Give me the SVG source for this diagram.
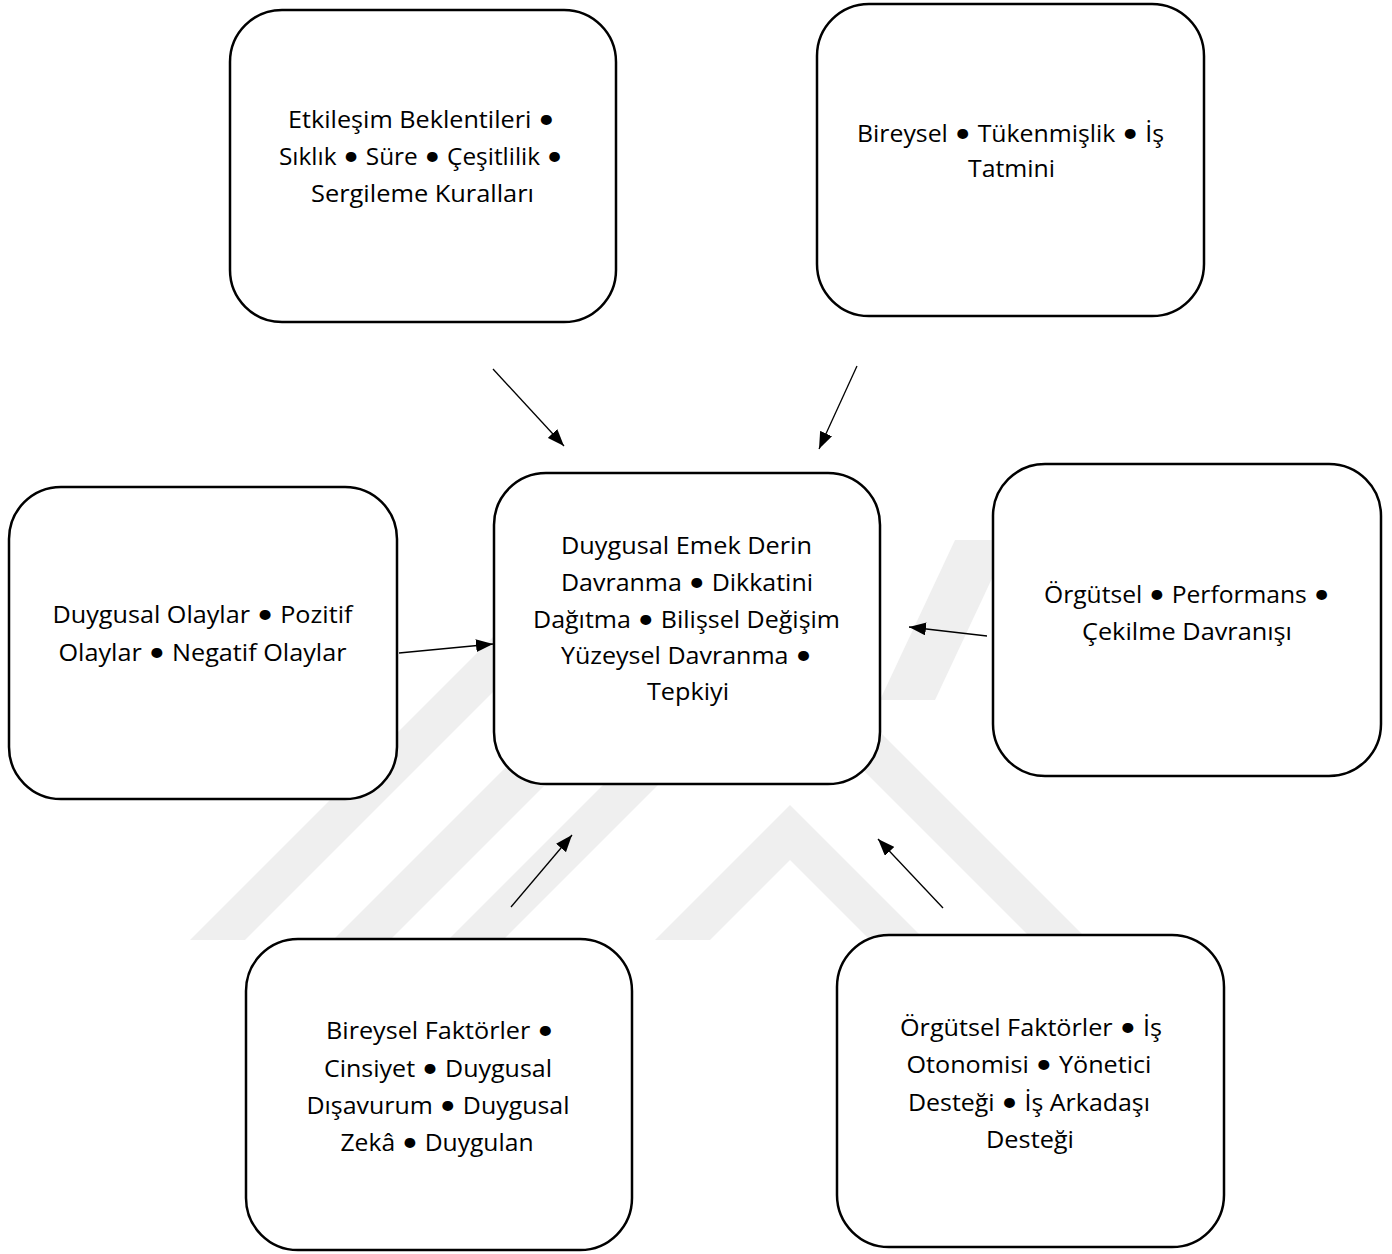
<svg xmlns="http://www.w3.org/2000/svg" width="1392" height="1254" viewBox="0 0 1392 1254">
  <style>
    .box { fill: #ffffff; stroke: #000000; stroke-width: 2.5; }
    .lbl { font-family: "Open Sans", Lato, "Liberation Sans", sans-serif; font-size: 23px; fill: #000000; text-anchor: middle; }
    .b { font-family: Lato, "Open Sans", sans-serif; font-size: 27px; }
    .wire { stroke: #000000; stroke-width: 1.3; fill: none; marker-end: url(#head); }
    .wm { fill: #efefef; stroke: none; }
  </style>
  <defs>
    <marker id="head" viewBox="0 0 17 13" refX="17" refY="6.5" markerWidth="17" markerHeight="13" markerUnits="userSpaceOnUse" orient="auto">
      <path d="M0,0 L17,6.5 L0,13 Z" fill="#000000"/>
    </marker>
  </defs>

  <rect width="1392" height="1254" fill="#ffffff"/>

  <!-- faint background emblem -->
  <g id="emblem">
    <polygon class="wm" points="190,940 245,940 665,520 610,520"/>
    <polygon class="wm" points="333,940 390,940 760,570 703,570"/>
    <polygon class="wm" points="448,940 768,620 1088,940 1033,940 768,675 503,940"/>
    <polygon class="wm" points="655,940 790,805 925,940 870,940 790,860 710,940"/>
    <polygon class="wm" points="880,700 935,700 1010,540 955,540"/>
  </g>

  <!-- connectors -->
  <g id="connectors">
    <line class="wire" x1="493" y1="369" x2="564" y2="446"/>
    <line class="wire" x1="857" y1="366" x2="819" y2="449"/>
    <line class="wire" x1="399" y1="653" x2="493" y2="644"/>
    <line class="wire" x1="987" y1="636" x2="909" y2="627"/>
    <line class="wire" x1="511" y1="907" x2="572" y2="835"/>
    <line class="wire" x1="943" y1="908" x2="878" y2="839"/>
  </g>

  <g id="node-etkilesim">
    <rect class="box" x="230" y="10" width="386" height="312" rx="52" ry="52"/>
    <text class="lbl" x="421.5" y="128" textLength="267" lengthAdjust="spacingAndGlyphs">Etkileşim Beklentileri <tspan class="b">•</tspan></text>
    <text class="lbl" x="421" y="165" textLength="284" lengthAdjust="spacingAndGlyphs">Sıklık <tspan class="b">•</tspan> Süre <tspan class="b">•</tspan> Çeşitlilik <tspan class="b">•</tspan></text>
    <text class="lbl" x="422.5" y="202" textLength="223" lengthAdjust="spacingAndGlyphs">Sergileme Kuralları</text>
  </g>

  <g id="node-bireysel-sonuc">
    <rect class="box" x="817" y="4" width="387" height="312" rx="52" ry="52"/>
    <text class="lbl" x="1010.5" y="142" textLength="307" lengthAdjust="spacingAndGlyphs">Bireysel <tspan class="b">•</tspan> Tükenmişlik <tspan class="b">•</tspan> İş</text>
    <text class="lbl" x="1011.5" y="177" textLength="87" lengthAdjust="spacingAndGlyphs">Tatmini</text>
  </g>

  <g id="node-duygusal-emek">
    <rect class="box" x="494" y="473" width="386" height="311" rx="52" ry="52"/>
    <text class="lbl" x="686.5" y="554" textLength="251" lengthAdjust="spacingAndGlyphs">Duygusal Emek Derin</text>
    <text class="lbl" x="687" y="591" textLength="252" lengthAdjust="spacingAndGlyphs">Davranma <tspan class="b">•</tspan> Dikkatini</text>
    <text class="lbl" x="686.5" y="628" textLength="307" lengthAdjust="spacingAndGlyphs">Dağıtma <tspan class="b">•</tspan> Bilişsel Değişim</text>
    <text class="lbl" x="686.5" y="664" textLength="251" lengthAdjust="spacingAndGlyphs">Yüzeysel Davranma <tspan class="b">•</tspan></text>
    <text class="lbl" x="688" y="700" textLength="82" lengthAdjust="spacingAndGlyphs">Tepkiyi</text>
  </g>

  <g id="node-duygusal-olaylar">
    <rect class="box" x="9" y="487" width="388" height="312" rx="52" ry="52"/>
    <text class="lbl" x="202.5" y="623" textLength="300" lengthAdjust="spacingAndGlyphs">Duygusal Olaylar <tspan class="b">•</tspan> Pozitif</text>
    <text class="lbl" x="202.5" y="661" textLength="288" lengthAdjust="spacingAndGlyphs">Olaylar <tspan class="b">•</tspan> Negatif Olaylar</text>
  </g>

  <g id="node-orgutsel-sonuc">
    <rect class="box" x="993" y="464" width="388" height="312" rx="52" ry="52"/>
    <text class="lbl" x="1187" y="603" textLength="286" lengthAdjust="spacingAndGlyphs">Örgütsel <tspan class="b">•</tspan> Performans <tspan class="b">•</tspan></text>
    <text class="lbl" x="1187" y="640" textLength="210" lengthAdjust="spacingAndGlyphs">Çekilme Davranışı</text>
  </g>

  <g id="node-bireysel-faktorler">
    <rect class="box" x="246" y="939" width="386" height="311" rx="52" ry="52"/>
    <text class="lbl" x="440" y="1039" textLength="228" lengthAdjust="spacingAndGlyphs">Bireysel Faktörler <tspan class="b">•</tspan></text>
    <text class="lbl" x="438" y="1077" textLength="228" lengthAdjust="spacingAndGlyphs">Cinsiyet <tspan class="b">•</tspan> Duygusal</text>
    <text class="lbl" x="438" y="1114" textLength="263" lengthAdjust="spacingAndGlyphs">Dışavurum <tspan class="b">•</tspan> Duygusal</text>
    <text class="lbl" x="437" y="1151" textLength="193" lengthAdjust="spacingAndGlyphs">Zekâ <tspan class="b">•</tspan> Duygulan</text>
  </g>

  <g id="node-orgutsel-faktorler">
    <rect class="box" x="837" y="935" width="387" height="312" rx="52" ry="52"/>
    <text class="lbl" x="1031" y="1036" textLength="262" lengthAdjust="spacingAndGlyphs">Örgütsel Faktörler <tspan class="b">•</tspan> İş</text>
    <text class="lbl" x="1029" y="1073" textLength="245" lengthAdjust="spacingAndGlyphs">Otonomisi <tspan class="b">•</tspan> Yönetici</text>
    <text class="lbl" x="1029" y="1111" textLength="242" lengthAdjust="spacingAndGlyphs">Desteği <tspan class="b">•</tspan> İş Arkadaşı</text>
    <text class="lbl" x="1030" y="1148" textLength="88" lengthAdjust="spacingAndGlyphs">Desteği</text>
  </g>
</svg>
